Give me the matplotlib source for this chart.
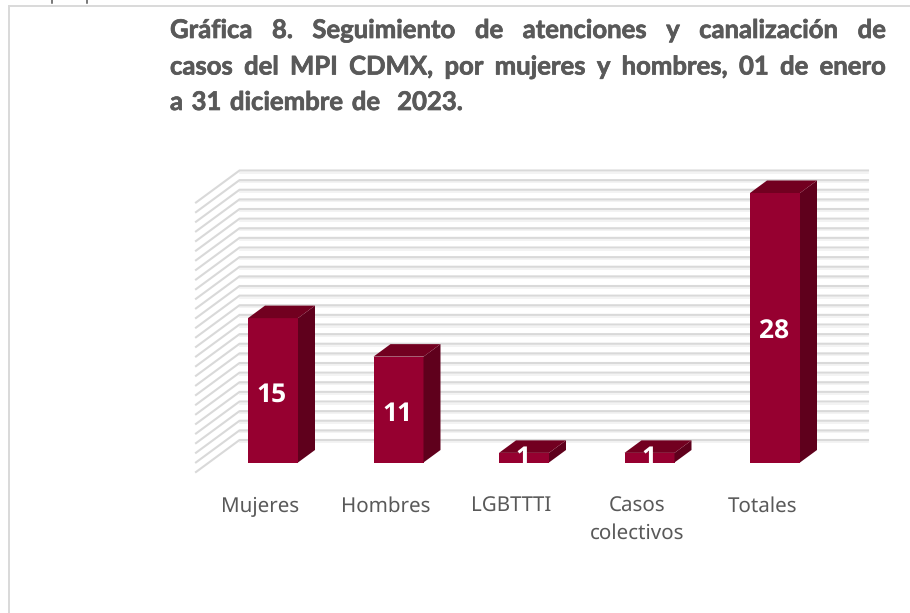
import matplotlib
matplotlib.use("Agg")
import matplotlib.pyplot as plt
import matplotlib.patheffects as pe

plt.rcParams["text.hinting"] = "no_hinting"

categories = ["Mujeres", "Hombres", "LGBTTTI", "Casos\ncolectivos", "Totales"]
values = [15, 11, 1, 1, 28]
grid_levels = list(range(0, 29))
title_lines = [
    "Gráfica 8. Seguimiento de atenciones y canalización de",
    "casos del MPI CDMX, por mujeres y hombres,  01 de enero",
    "a 31 diciembre de  2023.",
]

W, H = 910, 613
FRONT, SIDE, TOP = "#960030", "#5f001c", "#720020"
GRID, TEXT = "#d9d9d9", "#595959"
FONT = "Noto Sans"
BOLD = "Open Sans"
TITLE = "Lato"

fig = plt.figure(figsize=(W / 100, H / 100), dpi=100, facecolor="white")
ax = fig.add_axes([0, 0, 1, 1])
ax.set_xlim((0 - 273) / 125.5, (W - 273) / 125.5)
ax.set_ylim((462.5 - H) / 9.625, 462.5 / 9.625)
ax.axis("off")
xu, yu = 125.5, 9.625

# chart border
fig.add_artist(plt.Line2D([8.5 / W, 8.5 / W], [0, 1 - 6 / H], color=GRID, lw=1.4))
fig.add_artist(plt.Line2D([8.5 / W, 1], [1 - 6 / H, 1 - 6 / H], color=GRID, lw=1.4))

# two small dark marks at the top edge, remains of a line of text above the chart
for px in (52, 87):
    fig.add_artist(plt.Line2D([px / W, px / W], [1 - 2.5 / H, 1], color="#555555", lw=1.1))

# back wall gridlines with oblique side segment
x_front = (196 - 273) / xu
x_back = (239.5 - 273) / xu
x_right = (868 - 273) / xu
for v in grid_levels:
    y_front = v - 9.5 / yu
    y_back = v + 22.5 / yu
    ax.plot([x_front, x_back, x_right], [y_front, y_back, y_back],
            color=GRID, lw=1.5, solid_joinstyle="miter", zorder=1)
    ax.plot([x_back, x_right], [y_back - 2 / yu, y_back - 2 / yu],
            color="#f1f1f1", lw=1.2, zorder=0.9)

# 3D bars
bw = 50 / xu
dx, dy = 17 / xu, 12.5 / yu
xs = list(range(len(values)))
ax.bar(xs, values, width=bw, color=FRONT, zorder=3)
for x, v in zip(xs, values):
    l, r = x - bw / 2, x + bw / 2
    ax.fill([r, r + dx, r + dx, r], [0, dy, v + dy, v], color=SIDE, lw=0, zorder=3)
    ax.fill([l, l + dx, r + dx, r], [v, v + dy, v + dy, v], color=TOP, lw=0, zorder=3)
    ypos = v / 2 - 0.45 if v > 1 else 0.45
    ax.text(x - 1 / xu, ypos, str(v), color="white", fontsize=19, fontweight="bold",
            family=BOLD, ha="center", va="center", zorder=4)

# category labels
for x, c in zip(xs, categories):
    ax.text(x - 0.1, (462.5 - 496) / yu, c, color=TEXT, fontsize=14.8,
            family=FONT, ha="center", va="top", linespacing=1.45, zorder=4)

# justified title
fig.canvas.draw()
rend = fig.canvas.get_renderer()
LEFT, RIGHT = 170, 886
baselines = [38, 74.5, 110]
for i, (line, by) in enumerate(zip(title_lines, baselines)):
    words = line.split()
    arts = [fig.text(0, 1 - by / H, w, fontsize=18.5, fontweight="bold", family=TITLE,
                     color=TEXT, va="baseline", ha="left",
                     path_effects=[pe.withStroke(linewidth=0.5, foreground=TEXT)])
            for w in words]
    widths = [a.get_window_extent(rend).width for a in arts]
    if i < 2:
        gap = (RIGHT - LEFT - sum(widths)) / (len(words) - 1)
    else:
        gap = (463 - LEFT - sum(widths)) / len(words)
    x = LEFT
    for j, (a, w_) in enumerate(zip(arts, widths)):
        a.set_x(x / W)
        x += w_ + gap
        if i == 2 and j == len(words) - 2:
            x += gap

fig.savefig("out.png", dpi=100, facecolor="white")
